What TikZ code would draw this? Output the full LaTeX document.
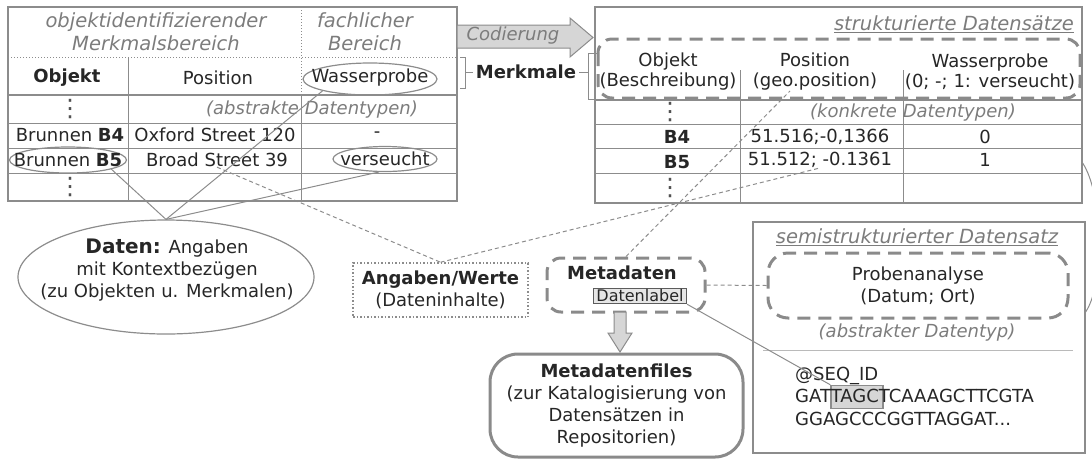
\documentclass[tikz,border=0pt]{standalone}
\usepackage{fontspec}
\setmainfont{DejaVu Sans}
\usetikzlibrary{calc,shapes.geometric}
\definecolor{inkc}{HTML}{262626}
\definecolor{rulec}{HTML}{8C8C8C}
\definecolor{notec}{HTML}{7C7C7C}
\definecolor{dashc}{HTML}{8A8A8A}
\definecolor{arrowc}{HTML}{D6D6D6}

\begin{document}
\begin{tikzpicture}[x=1pt,y=-1pt,
    every node/.style={font=\fontsize{18}{22}\selectfont,text=inkc,inner sep=0pt},
    gridline/.style={draw=rulec,line width=1pt},
    gridbold/.style={draw=rulec,line width=2pt},
    griddot/.style={draw=rulec,line width=1pt,dotted},
    tabframe/.style={draw=rulec,line width=1.2pt,rectangle},
    headlabel/.style={text=notec,font=\fontsize{19.5}{23}\selectfont\itshape},
    typelabel/.style={text=notec,font=\fontsize{18}{22}\selectfont\itshape},
    headcell/.style={font=\fontsize{18}{20}\selectfont,align=center},
    boldlabel/.style={font=\fontsize{18}{22}\selectfont\bfseries},
    dotcell/.style={font=\fontsize{24}{24}\selectfont,text=inkc!80},
    ringmark/.style={draw=rulec,line width=1.2pt,ellipse},
    dashhull/.style={draw=dashc,line width=3pt,dash pattern=on 13pt off 8pt,rounded corners=14pt},
    linkline/.style={draw=rulec,line width=1pt},
    hintline/.style={draw=rulec,line width=1pt,dash pattern=on 4pt off 3pt},
    blockarrow/.style={draw=rulec,fill=arrowc,line width=1pt}]
  \useasboundingbox (0,0) rectangle (1092,459);
  \clip (0,0) rectangle (1092,459);

  \node[tabframe,minimum width=449,minimum height=194] (ltab) at (232.5,104) {};
  \draw[griddot] (8,57) -- (457,57);
  \draw[gridbold] (8,95) -- (457,95);
  \foreach \y in {123,148,173}
    \draw[gridline] (8,\y) -- (457,\y);
  \draw[gridline] (128,57) -- (128,201);
  \draw[griddot] (301,7) -- (301,95);
  \draw[gridline] (301,95) -- (301,201);

  \node[headlabel,align=center] (objid) at (156,32) {objektidentifizierender\\Merkmalsbereich};
  \node[headlabel,align=center] (fach) at (365,32) {fachlicher\\Bereich};
  \node[boldlabel] (lObj) at (67,78) {Objekt};
  \node (lPos) at (218,78) {Position};
  \node[ringmark,minimum width=134,minimum height=32] (wasRing) at (370,79) {};
  \node (lWas) at (370,78) {Wasserprobe};
  \node[dotcell] (lDotsA) at (70,109) {⋮};
  \node[typelabel] (absT) at (312,110) {(abstrakte Datentypen)};
  \node (b4) at (70,135) {Brunnen \textbf{B4}};
  \node (oxf) at (215,135) {Oxford Street 120};
  \node (minus) at (377,135) {-};
  \node[ringmark,minimum width=117,minimum height=26] (b5ring) at (68,160) {};
  \node (b5) at (68,160) {Brunnen \textbf{B5}};
  \node (broad) at (217,160) {Broad Street 39};
  \node[ringmark,minimum width=104,minimum height=25] (versRing) at (385,159) {};
  \node (vers) at (385,159) {verseucht};
  \node[dotcell] (lDotsB) at (70,187) {⋮};

  \draw[blockarrow] (457,25) -- (570,25) -- (570,18) -- (593,37.5) -- (570,57) -- (570,48) -- (457,48) -- cycle;
  \node[typelabel] (cod) at (513,36) {Codierung};

  \node[boldlabel,inner xsep=3pt] (merk) at (526,72) {Merkmale};
  \draw[linkline] (460,57) -- (465,57) -- (465,88) -- (460,88);
  \draw[linkline] (597,53) -- (588,53) -- (588,99) -- (597,99);
  \coordinate (lbrace) at (465,72);
  \coordinate (rbrace) at (588,72);
  \draw[linkline] (lbrace) -- (merk.west);
  \draw[linkline] (merk.east) -- (rbrace);

  \node[tabframe,minimum width=487,minimum height=196] (rtab) at (838.5,105) {};
  \node[headlabel,anchor=east] (strukT) at (1074,24) {\underline{strukturierte Datensätze}};
  \draw[gridbold] (595,100) -- (1082,100);
  \foreach \y in {124,148,173}
    \draw[gridline] (595,\y) -- (1082,\y);
  \foreach \x in {740,903}
    \draw[gridline] (\x,70) -- (\x,203);
  \draw[dashhull] (598,39) rectangle (1080,98);
  \node[headcell] (rObj) at (668,72) {Objekt\\(Beschreibung)};
  \node[headcell] (rPos) at (815,72) {Position\\(geo.position)};
  \node[headcell] (rWas) at (990,72) {Wasserprobe\\(0; -; 1: verseucht)};
  \node[dotcell] (rDotsA) at (670,112) {⋮};
  \node[typelabel] (konkT) at (913,113) {(konkrete Datentypen)};
  \node[boldlabel] (rb4) at (677,137) {B4};
  \node (pos4) at (820,137) {51.516;-0,1366};
  \node (val4) at (985,137) {0};
  \node[boldlabel] (rb5) at (677,162) {B5};
  \node (pos5) at (820,160) {51.512; -0.1361};
  \node (val5) at (985,160) {1};
  \node[dotcell] (rDotsB) at (670,188) {⋮};

  \node[ringmark,minimum width=296,minimum height=114] (daten) at (166,277) {};
  \node[align=center] (datenT) at (167,270) {{\fontsize{20}{22}\selectfont\bfseries Daten:} Angaben\\mit Kontextbezügen\\(zu Objekten u. Merkmalen)};
  \draw[linkline] (daten.north) -- (b5ring.-12);
  \draw[linkline] (daten.north) -- (wasRing.-166);
  \draw[linkline] (daten.north) -- (versRing.-115);

  \node[draw=rulec,line width=1.5pt,dotted,minimum width=175,minimum height=54,align=center] (angab) at (440.5,290) {\textbf{Angaben/Werte}\\(Dateninhalte)};
  \draw[hintline] (broad.south) -- (angab.north);
  \draw[hintline] (angab.north) -- (pos5.south);

  \node[dashhull,minimum width=158,minimum height=54] (meta) at (626,285) {};
  \node[boldlabel] (metaT) at (622,273) {Metadaten};
  \node[draw=inkc!75,fill=arrowc!60,line width=1pt,font=\fontsize{16}{18}\selectfont,inner xsep=3pt,inner ysep=1.5pt] (dlab) at (640,296) {Datenlabel};
  \draw[hintline] (meta.north) -- ($(rPos.south west)!0.3!(rPos.south east)$);

  \draw[blockarrow] (614,312) -- (626,312) -- (626,333) -- (632,333) -- (620,352) -- (608,333) -- (614,333) -- cycle;
  \node[draw=dashc,line width=3pt,rounded corners=28pt,minimum width=253,minimum height=103,align=center] (mfiles) at (616.5,405.5) {\textbf{Metadatenfiles}\\(zur Katalogisierung von\\Datensätzen in\\Repositorien)};

  \node[tabframe,minimum width=332,minimum height=231] (semi) at (919,337.5) {};
  \node[headlabel] (semiT) at (917,237) {\underline{semistrukturierter Datensatz}};
  \node[dashhull,rounded corners=20pt,minimum width=300,minimum height=65,align=center] (probe) at (918,285.5) {Probenanalyse\\(Datum; Ort)};
  \node[typelabel] (abstT) at (917,333) {(abstrakter Datentyp)};
  \draw[draw=rulec!60,line width=1pt] (763,350) -- (1073,350);
  \node[draw=rulec,fill=arrowc,line width=1.5pt,minimum width=52,minimum height=23] (tagc) at (857,397) {};
  \node[anchor=west,align=left,font=\fontsize{18}{22.5}\selectfont] (seq) at (795,396) {@SEQ\_ID\\GATTAGCTCAAAGCTTCGTA\\GGAGCCCGGTTAGGAT...};

  \draw[hintline] (meta.east) -- (probe.west);
  \draw[linkline] (dlab.south east) -- (tagc.north west);
  \draw[linkline] ([yshift=-58pt]rtab.east) .. controls +(20,30) and +(20,-30) .. ([yshift=25.5pt]semi.east);
\end{tikzpicture}
\end{document}
